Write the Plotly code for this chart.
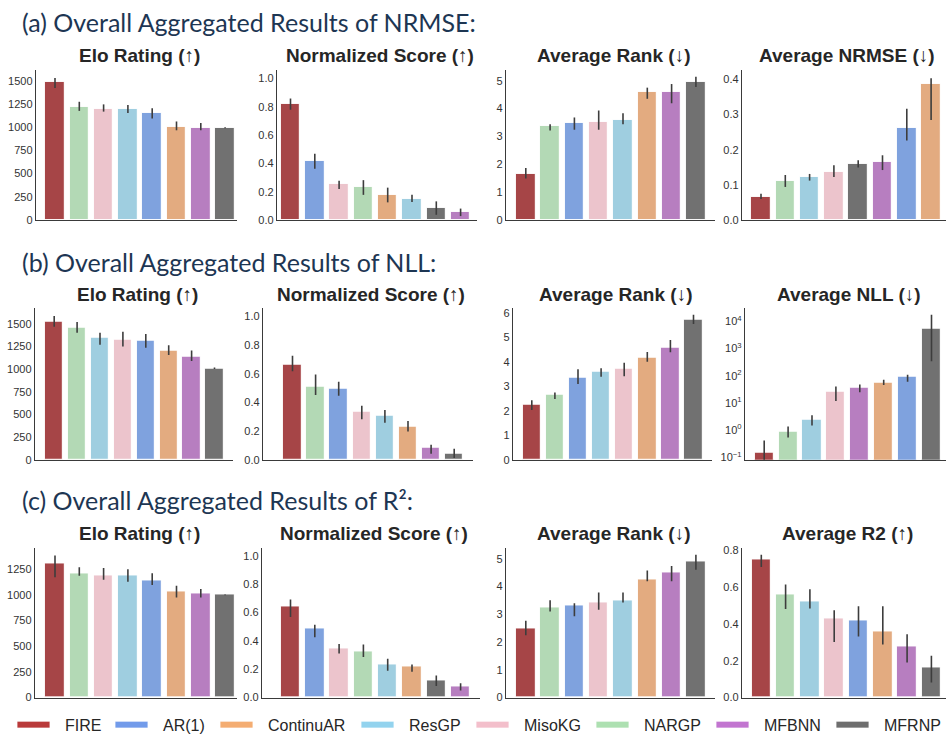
import plotly.graph_objects as go
from plotly.subplots import make_subplots

# ---------------------------------------------------------------- data
METHODS = ["FIRE", "AR(1)", "ContinuAR", "ResGP", "MisoKG", "NARGP", "MFBNN", "MFRNP"]
BAR_COLORS = ["#a64547", "#7fa2de", "#e3ab80", "#9fcee0", "#ecc4cc", "#b3d9b5", "#b77ec0", "#717171"]
LEGEND_COLORS = ["#b93a3a", "#729bea", "#f4ad72", "#93d3ee", "#f3bfcb", "#ade0b1", "#c275d0", "#6e6e6e"]

# (a) NRMSE
NRMSE_ELO_ORDER = ["FIRE", "NARGP", "MisoKG", "ResGP", "AR(1)", "ContinuAR", "MFBNN", "MFRNP"]
NRMSE_ELO_MEAN = [1482, 1217, 1199, 1196, 1153, 1005, 994, 994]
NRMSE_ELO_LOW = [1422, 1175, 1167, 1153, 1093, 966, 966, 987]
NRMSE_ELO_HIGH = [1528, 1273, 1245, 1238, 1203, 1061, 1044, 1000]

NRMSE_NORM_ORDER = ["FIRE", "AR(1)", "MisoKG", "NARGP", "ContinuAR", "ResGP", "MFRNP", "MFBNN"]
NRMSE_NORM_MEAN = [0.819, 0.414, 0.252, 0.234, 0.178, 0.148, 0.086, 0.058]
NRMSE_NORM_LOW = [0.780, 0.363, 0.220, 0.178, 0.125, 0.127, 0.037, 0.028]
NRMSE_NORM_HIGH = [0.859, 0.468, 0.278, 0.282, 0.229, 0.178, 0.132, 0.081]

NRMSE_RANK_ORDER = ["FIRE", "NARGP", "AR(1)", "MisoKG", "ResGP", "ContinuAR", "MFBNN", "MFRNP"]
NRMSE_RANK_MEAN = [1.655, 3.38, 3.48, 3.52, 3.60, 4.60, 4.60, 4.95]
NRMSE_RANK_LOW = [1.49, 3.21, 3.24, 3.24, 3.44, 4.35, 4.19, 4.77]
NRMSE_RANK_HIGH = [1.87, 3.44, 3.68, 3.93, 3.83, 4.75, 4.88, 5.14]

NRMSE_AVG_ORDER = ["FIRE", "NARGP", "ResGP", "MisoKG", "MFRNP", "MFBNN", "AR(1)", "ContinuAR"]
NRMSE_AVG_MEAN = [0.065, 0.110, 0.123, 0.136, 0.159, 0.164, 0.262, 0.385]
NRMSE_AVG_LOW = [0.060, 0.094, 0.112, 0.122, 0.149, 0.142, 0.226, 0.284]
NRMSE_AVG_HIGH = [0.075, 0.128, 0.131, 0.156, 0.170, 0.184, 0.316, 0.403]

# (b) NLL
NLL_ELO_ORDER = ["FIRE", "NARGP", "ResGP", "MisoKG", "AR(1)", "ContinuAR", "MFBNN", "MFRNP"]
NLL_ELO_MEAN = [1518, 1452, 1343, 1325, 1310, 1205, 1139, 1008]
NLL_ELO_LOW = [1467, 1401, 1267, 1249, 1234, 1154, 1088, 1001]
NLL_ELO_HIGH = [1584, 1518, 1401, 1412, 1387, 1263, 1205, 1016]

NLL_NORM_ORDER = ["FIRE", "NARGP", "AR(1)", "MisoKG", "ResGP", "ContinuAR", "MFBNN", "MFRNP"]
NLL_NORM_MEAN = [0.660, 0.507, 0.495, 0.333, 0.306, 0.229, 0.081, 0.039]
NLL_NORM_LOW = [0.618, 0.451, 0.447, 0.282, 0.259, 0.197, 0.042, 0.012]
NLL_NORM_HIGH = [0.725, 0.595, 0.544, 0.377, 0.347, 0.271, 0.104, 0.076]

NLL_RANK_ORDER = ["FIRE", "NARGP", "AR(1)", "ResGP", "MisoKG", "ContinuAR", "MFBNN", "MFRNP"]
NLL_RANK_MEAN = [2.24, 2.64, 3.33, 3.58, 3.70, 4.16, 4.57, 5.73]
NLL_RANK_LOW = [2.03, 2.48, 3.09, 3.39, 3.41, 4.00, 4.39, 5.54]
NLL_RANK_HIGH = [2.43, 2.75, 3.69, 3.73, 3.96, 4.40, 4.89, 5.92]

NLL_AVG_ORDER = ["FIRE", "NARGP", "ResGP", "MisoKG", "MFBNN", "ContinuAR", "AR(1)", "MFRNP"]
NLL_AVG_MEAN = [0.144, 0.869, 2.46, 25.2, 35.4, 54.0, 89.3, 5248]
NLL_AVG_LOW = [0.03, 0.54, 1.48, 11.8, 25.2, 45.6, 60.3, 344]
NLL_AVG_HIGH = [0.419, 1.36, 3.54, 40.7, 48.2, 71.4, 108.9, 17540]

# (c) R2
R2_ELO_ORDER = ["FIRE", "NARGP", "MisoKG", "ResGP", "AR(1)", "ContinuAR", "MFBNN", "MFRNP"]
R2_ELO_MEAN = [1306, 1210, 1190, 1184, 1142, 1027, 1008, 998]
R2_ELO_LOW = [1171, 1184, 1146, 1126, 1094, 973, 973, 994]
R2_ELO_HIGH = [1382, 1267, 1261, 1248, 1210, 1088, 1056, 1002]

R2_NORM_ORDER = ["FIRE", "AR(1)", "MisoKG", "NARGP", "ResGP", "ContinuAR", "MFRNP", "MFBNN"]
R2_NORM_MEAN = [0.643, 0.487, 0.348, 0.327, 0.230, 0.216, 0.118, 0.074]
R2_NORM_LOW = [0.568, 0.425, 0.311, 0.285, 0.188, 0.181, 0.081, 0.049]
R2_NORM_HIGH = [0.691, 0.513, 0.378, 0.374, 0.274, 0.232, 0.155, 0.100]

R2_RANK_ORDER = ["FIRE", "NARGP", "AR(1)", "MisoKG", "ResGP", "ContinuAR", "MFBNN", "MFRNP"]
R2_RANK_MEAN = [2.50, 3.23, 3.30, 3.43, 3.51, 4.25, 4.51, 4.89]
R2_RANK_LOW = [2.25, 3.10, 2.93, 3.17, 3.43, 4.19, 4.19, 4.61]
R2_RANK_HIGH = [2.77, 3.51, 3.40, 3.79, 3.79, 4.58, 4.74, 5.15]

R2_AVG_ORDER = ["FIRE", "NARGP", "ResGP", "MisoKG", "AR(1)", "ContinuAR", "MFBNN", "MFRNP"]
R2_AVG_MEAN = [0.748, 0.560, 0.521, 0.430, 0.419, 0.356, 0.274, 0.161]
R2_AVG_LOW = [0.709, 0.480, 0.483, 0.301, 0.331, 0.288, 0.190, 0.081]
R2_AVG_HIGH = [0.775, 0.614, 0.587, 0.474, 0.496, 0.496, 0.344, 0.227]

SECTION_TITLES = [
    "(a) Overall Aggregated Results of NRMSE:",
    "(b) Overall Aggregated Results of NLL:",
    "(c) Overall Aggregated Results of R²:",
]
PANEL_TITLES = [
    ["Elo Rating (↑)", "Normalized Score (↑)", "Average Rank (↓)", "Average NRMSE (↓)"],
    ["Elo Rating (↑)", "Normalized Score (↑)", "Average Rank (↓)", "Average NLL (↓)"],
    ["Elo Rating (↑)", "Normalized Score (↑)", "Average Rank (↓)", "Average R2 (↑)"],
]

ELO_TICKS = [0, 250, 500, 750, 1000, 1250, 1500]
NORM_TICKS = [0.0, 0.2, 0.4, 0.6, 0.8, 1.0]
NLL_TICK_EXP = [-1, 0, 1, 2, 3, 4]

PANELS = [
    [
        (NRMSE_ELO_ORDER, NRMSE_ELO_MEAN, NRMSE_ELO_LOW, NRMSE_ELO_HIGH),
        (NRMSE_NORM_ORDER, NRMSE_NORM_MEAN, NRMSE_NORM_LOW, NRMSE_NORM_HIGH),
        (NRMSE_RANK_ORDER, NRMSE_RANK_MEAN, NRMSE_RANK_LOW, NRMSE_RANK_HIGH),
        (NRMSE_AVG_ORDER, NRMSE_AVG_MEAN, NRMSE_AVG_LOW, NRMSE_AVG_HIGH),
    ],
    [
        (NLL_ELO_ORDER, NLL_ELO_MEAN, NLL_ELO_LOW, NLL_ELO_HIGH),
        (NLL_NORM_ORDER, NLL_NORM_MEAN, NLL_NORM_LOW, NLL_NORM_HIGH),
        (NLL_RANK_ORDER, NLL_RANK_MEAN, NLL_RANK_LOW, NLL_RANK_HIGH),
        (NLL_AVG_ORDER, NLL_AVG_MEAN, NLL_AVG_LOW, NLL_AVG_HIGH),
    ],
    [
        (R2_ELO_ORDER, R2_ELO_MEAN, R2_ELO_LOW, R2_ELO_HIGH),
        (R2_NORM_ORDER, R2_NORM_MEAN, R2_NORM_LOW, R2_NORM_HIGH),
        (R2_RANK_ORDER, R2_RANK_MEAN, R2_RANK_LOW, R2_RANK_HIGH),
        (R2_AVG_ORDER, R2_AVG_MEAN, R2_AVG_LOW, R2_AVG_HIGH),
    ],
]

# ---------------------------------------------------------------- layout geometry (pixels)
W, H = 948, 740
ROW_Y = [(67, 219), (308, 462), (551, 703)]          # plot top / bottom
# left edge, right edge, centre of first bar, pixels per category
COL_X = [
    [(36, 237, 55.0, 24.3), (277, 477, 290.5, 24.3), (506, 715, 525.8, 24.3), (742, 946, 761.0, 24.3)],
    [(35, 233, 54.2, 22.9), (263, 473, 292.5, 23.1), (513, 712, 531.8, 23.1), (745, 946, 764.2, 23.9)],
    [(35, 237, 55.0, 24.3), (262, 480, 290.5, 24.3), (506, 715, 525.8, 24.3), (742, 946, 761.3, 24.3)],
]
Y_RANGES = [
    [[0, 1614], [0, 1.06], [0, 5.38], [0, 0.426]],
    [[0, 1675], [0, 1.06], [0, 6.2], [-1.085, 4.5]],
    [[0, 1459], [0, 1.058], [0, 5.41], [0, 0.814]],
]
Y_TICKS = [
    [ELO_TICKS, NORM_TICKS, [0, 1, 2, 3, 4, 5], [0.0, 0.1, 0.2, 0.3, 0.4]],
    [ELO_TICKS, NORM_TICKS, [0, 1, 2, 3, 4, 5, 6], None],
    [ELO_TICKS[:-1], NORM_TICKS, [0, 1, 2, 3, 4, 5], [0.0, 0.2, 0.4, 0.6, 0.8]],
]
Y_FMT = [["d", ".1f", "d", ".1f"], ["d", ".1f", "d", None], ["d", ".1f", "d", ".1f"]]
TITLE_Y = [52, 294, 537]
SECTION_Y = [18, 262, 503]

TITLE_COLOR = "#1d3653"
TEXT_COLOR = "#262626"
AXIS_COLOR = "#3a3a3a"
ERR_COLOR = "#3d3d3d"
SANS = "Liberation Sans, Arial, sans-serif"


def px(x):
    return x / W


def py(y):
    return 1 - y / H


color_of = dict(zip(METHODS, BAR_COLORS))

fig = make_subplots(rows=3, cols=4)

for r in range(3):
    for c in range(4):
        order, mean, low, high = PANELS[r][c]
        err_plus = [h - m for h, m in zip(high, mean)]
        err_minus = [m - l for m, l in zip(mean, low)]
        fig.add_trace(
            go.Bar(
                x=list(range(len(order))),
                y=mean,
                width=0.8,
                marker=dict(color=[color_of[m] for m in order],
                            line=dict(color="rgba(255,255,255,0.9)", width=1.2)),
                error_y=dict(type="data", array=err_plus, arrayminus=err_minus,
                             symmetric=False, color=ERR_COLOR, thickness=1.6, width=0),
                hovertext=order,
                showlegend=False,
            ),
            row=r + 1, col=c + 1,
        )

        n = r * 4 + c + 1
        left, right, c0, unit = COL_X[r][c]
        top, bottom = ROW_Y[r]
        xa = "xaxis" if n == 1 else f"xaxis{n}"
        ya = "yaxis" if n == 1 else f"yaxis{n}"
        fig.layout[xa].update(
            domain=[px(left), px(right)],
            range=[(left - c0) / unit, (right - c0) / unit],
            showline=True, linecolor=AXIS_COLOR, linewidth=1.4,
            showgrid=False, zeroline=False, showticklabels=False, ticks="",
        )
        yopts = dict(
            domain=[py(bottom), py(top)],
            range=Y_RANGES[r][c],
            showline=True, linecolor=AXIS_COLOR, linewidth=1.4,
            showgrid=False, zeroline=False, ticks="",
            tickfont=dict(family=SANS, size=11, color="#333333"),
        )
        if r == 1 and c == 3:
            yopts.update(
                type="log",
                tickmode="array",
                tickvals=[10 ** e for e in NLL_TICK_EXP],
                ticktext=[f"10<sup>{'−' if e < 0 else ''}{abs(e)}</sup>" for e in NLL_TICK_EXP],
            )
        else:
            yopts.update(tickmode="array", tickvals=Y_TICKS[r][c], tickformat=Y_FMT[r][c])
        fig.layout[ya].update(**yopts)

annotations = []
for r in range(3):
    annotations.append(dict(
        text=SECTION_TITLES[r], x=px(20), y=py(SECTION_Y[r]), xref="paper", yref="paper",
        xanchor="left", yanchor="middle", showarrow=False,
        font=dict(family="Lato, Open Sans, sans-serif", size=25, color=TITLE_COLOR),
    ))
    for c in range(4):
        left, right, _, _ = COL_X[r][c]
        annotations.append(dict(
            text=f"<b>{PANEL_TITLES[r][c]}</b>", x=px((left + right) / 2 + 3), y=py(TITLE_Y[r]),
            xref="paper", yref="paper", xanchor="center", yanchor="middle", showarrow=False,
            font=dict(family=SANS, size=19, color=TEXT_COLOR),
        ))

# legend drawn as swatches + labels along the bottom
LEG_SWATCH_X = [17, 115, 220, 361, 476, 596, 716, 836]
SWATCH_W = 33
shapes = []
for i, m in enumerate(METHODS):
    x0 = LEG_SWATCH_X[i]
    shapes.append(dict(
        type="rect", xref="paper", yref="paper",
        x0=px(x0), x1=px(x0 + SWATCH_W), y0=py(734), y1=py(727),
        fillcolor=LEGEND_COLORS[i], line=dict(color="rgba(255,255,255,0.8)", width=1),
    ))
    annotations.append(dict(
        text=m, x=px(x0 + SWATCH_W + 13), y=py(731), xref="paper", yref="paper",
        xanchor="left", yanchor="middle", showarrow=False,
        font=dict(family=SANS, size=16, color=TEXT_COLOR),
    ))

fig.update_layout(
    width=W, height=H,
    margin=dict(l=0, r=0, t=0, b=0),
    paper_bgcolor="white", plot_bgcolor="white",
    annotations=annotations, shapes=shapes,
    bargap=0,
    showlegend=False,
)

fig.write_html("out.html")
